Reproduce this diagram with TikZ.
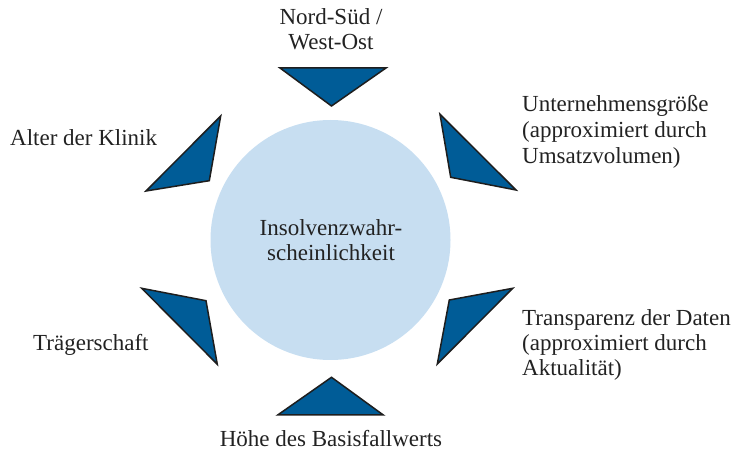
\documentclass[tikz,border=0pt]{standalone}
\usepackage{fontspec}
\setmainfont{Liberation Serif}
\begin{document}
\begin{tikzpicture}[x=1pt,y=-1pt,
  lbl/.style={inner sep=0pt,text=txt,font=\fontsize{23}{26}\selectfont},
  tri/.style={fill=triblue,draw=edge,line width=1.5pt,line join=miter}]
\definecolor{triblue}{HTML}{005C97}
\definecolor{circ}{HTML}{C7DEF1}
\definecolor{edge}{HTML}{1E1E1E}
\definecolor{txt}{HTML}{222222}
\useasboundingbox (0,0) rectangle (737,454);
% circle
\fill[circ] (330.5,240) circle[radius=120];
% triangles
\draw[tri] (280,68) -- (386,68) -- (331.5,106) -- cycle;
\draw[tri] (220.7,116) -- (209.3,180.7) -- (146,191) -- cycle;
\draw[tri] (440,114.3) -- (516,190) -- (450.7,177.3) -- cycle;
\draw[tri] (141.7,288.3) -- (206,300.7) -- (217.3,364.3) -- cycle;
\draw[tri] (512.7,288.3) -- (449.3,300) -- (437.3,364) -- cycle;
\draw[tri] (331.5,377.3) -- (383.3,415) -- (277.7,415) -- cycle;
% labels
\node[lbl,anchor=base] (ns1) at (331,25) {Nord-Süd /};
\node[lbl,anchor=base] (ns2) at (331,50) {West-Ost};
\node[lbl,anchor=base west] (alt) at (10,146) {Alter der Klinik};
\node[lbl,anchor=base west] (ug1) at (522,112) {Unternehmensgröße};
\node[lbl,anchor=base west] (ug2) at (522,138) {(approximiert durch};
\node[lbl,anchor=base west] (ug3) at (522,164) {Umsatzvolumen)};
\node[lbl,anchor=base] (iw1) at (331,236) {Insolvenzwahr-};
\node[lbl,anchor=base] (iw2) at (331,261) {scheinlichkeit};
\node[lbl,anchor=base west] (tr) at (33,351) {Trägerschaft};
\node[lbl,anchor=base west] (td1) at (522,326) {Transparenz der Daten};
\node[lbl,anchor=base west] (td2) at (522,351) {(approximiert durch};
\node[lbl,anchor=base west] (td3) at (522,376) {Aktualität)};
\node[lbl,anchor=base] (hb) at (331,447) {Höhe des Basisfallwerts};
\end{tikzpicture}
\end{document}
